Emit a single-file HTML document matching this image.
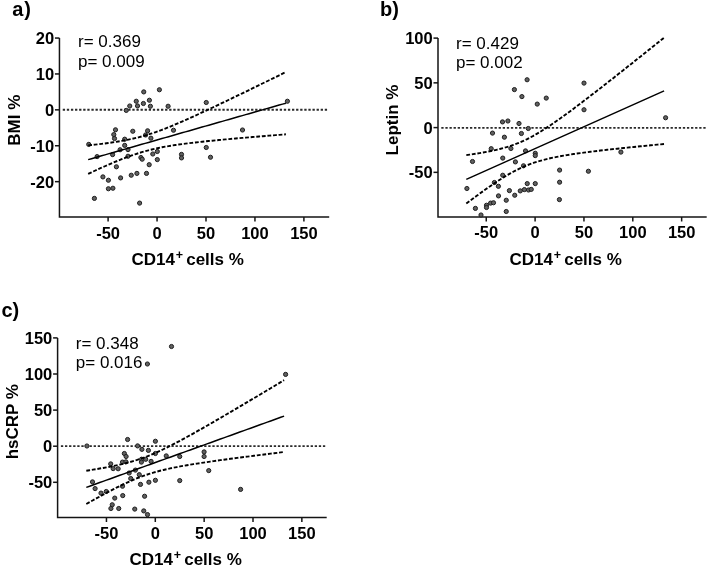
<!DOCTYPE html>
<html><head><meta charset="utf-8"><style>
html,body{margin:0;padding:0;background:#fff;}
svg{display:block;filter:blur(0.35px);}
text{font-family:"Liberation Sans",sans-serif;}
.b{font-weight:bold;}
</style></head><body>
<svg width="708" height="568" viewBox="0 0 708 568">
<rect width="708" height="568" fill="#fff"/>
<text class="b" x="12.3" y="16" font-size="20">a</text>
<text class="b" x="24.2" y="16" font-size="20">)</text>
<path d="M59.45 37.90 V217.10 H329.20" fill="none" stroke="#141414" stroke-width="1.5"/>
<line x1="54.95" y1="38.05" x2="59.45" y2="38.05" stroke="#141414" stroke-width="1.5"/>
<text class="b" x="54.15" y="43.95" font-size="16.5" text-anchor="end">20</text>
<line x1="54.95" y1="73.95" x2="59.45" y2="73.95" stroke="#141414" stroke-width="1.5"/>
<text class="b" x="54.15" y="79.85" font-size="16.5" text-anchor="end">10</text>
<line x1="54.95" y1="109.85" x2="59.45" y2="109.85" stroke="#141414" stroke-width="1.5"/>
<text class="b" x="54.15" y="115.75" font-size="16.5" text-anchor="end">0</text>
<line x1="54.95" y1="145.75" x2="59.45" y2="145.75" stroke="#141414" stroke-width="1.5"/>
<text class="b" x="54.15" y="151.65" font-size="16.5" text-anchor="end">-10</text>
<line x1="54.95" y1="181.65" x2="59.45" y2="181.65" stroke="#141414" stroke-width="1.5"/>
<text class="b" x="54.15" y="187.55" font-size="16.5" text-anchor="end">-20</text>
<line x1="108.10" y1="217.10" x2="108.10" y2="221.60" stroke="#141414" stroke-width="1.5"/>
<text class="b" x="108.10" y="238.50" font-size="16.5" text-anchor="middle">-50</text>
<line x1="157.05" y1="217.10" x2="157.05" y2="221.60" stroke="#141414" stroke-width="1.5"/>
<text class="b" x="157.05" y="238.50" font-size="16.5" text-anchor="middle">0</text>
<line x1="206.00" y1="217.10" x2="206.00" y2="221.60" stroke="#141414" stroke-width="1.5"/>
<text class="b" x="206.00" y="238.50" font-size="16.5" text-anchor="middle">50</text>
<line x1="254.95" y1="217.10" x2="254.95" y2="221.60" stroke="#141414" stroke-width="1.5"/>
<text class="b" x="254.95" y="238.50" font-size="16.5" text-anchor="middle">100</text>
<line x1="303.90" y1="217.10" x2="303.90" y2="221.60" stroke="#141414" stroke-width="1.5"/>
<text class="b" x="303.90" y="238.50" font-size="16.5" text-anchor="middle">150</text>
<text class="b" font-size="17" text-anchor="middle" transform="translate(19.80 120.20) rotate(-90)">BMI %</text>
<text class="b" font-size="17" x="131.50" y="265.40">CD14</text>
<text class="b" font-size="12.5" x="175.70" y="258.70">+</text>
<text class="b" font-size="17" x="186.20" y="265.40">cells %</text>
<text font-size="17" x="78.00" y="47.35">r= 0.369</text>
<text font-size="17" x="78.00" y="66.70">p= 0.009</text>
<line x1="62.75" y1="109.75" x2="328.20" y2="109.75" stroke="#2a2a2a" stroke-width="1.8" stroke-dasharray="2.3 1.794"/>
<circle cx="143.75" cy="91.90" r="2.1" fill="#606060" stroke="#1e1e1e" stroke-width="1.0"/>
<circle cx="159.40" cy="89.75" r="2.1" fill="#606060" stroke="#1e1e1e" stroke-width="1.0"/>
<circle cx="136.25" cy="101.25" r="2.1" fill="#606060" stroke="#1e1e1e" stroke-width="1.0"/>
<circle cx="149.40" cy="100.25" r="2.1" fill="#606060" stroke="#1e1e1e" stroke-width="1.0"/>
<circle cx="143.40" cy="103.50" r="2.1" fill="#606060" stroke="#1e1e1e" stroke-width="1.0"/>
<circle cx="129.75" cy="106.00" r="2.1" fill="#606060" stroke="#1e1e1e" stroke-width="1.0"/>
<circle cx="137.50" cy="105.90" r="2.1" fill="#606060" stroke="#1e1e1e" stroke-width="1.0"/>
<circle cx="150.40" cy="106.25" r="2.1" fill="#606060" stroke="#1e1e1e" stroke-width="1.0"/>
<circle cx="126.25" cy="110.40" r="2.1" fill="#606060" stroke="#1e1e1e" stroke-width="1.0"/>
<circle cx="168.10" cy="106.25" r="2.1" fill="#606060" stroke="#1e1e1e" stroke-width="1.0"/>
<circle cx="115.50" cy="129.80" r="2.1" fill="#606060" stroke="#1e1e1e" stroke-width="1.0"/>
<circle cx="132.80" cy="131.25" r="2.1" fill="#606060" stroke="#1e1e1e" stroke-width="1.0"/>
<circle cx="147.60" cy="130.80" r="2.1" fill="#606060" stroke="#1e1e1e" stroke-width="1.0"/>
<circle cx="113.80" cy="134.60" r="2.1" fill="#606060" stroke="#1e1e1e" stroke-width="1.0"/>
<circle cx="114.50" cy="138.50" r="2.1" fill="#606060" stroke="#1e1e1e" stroke-width="1.0"/>
<circle cx="124.70" cy="139.20" r="2.1" fill="#606060" stroke="#1e1e1e" stroke-width="1.0"/>
<circle cx="150.90" cy="138.20" r="2.1" fill="#606060" stroke="#1e1e1e" stroke-width="1.0"/>
<circle cx="88.75" cy="144.40" r="2.1" fill="#606060" stroke="#1e1e1e" stroke-width="1.0"/>
<circle cx="124.70" cy="145.40" r="2.1" fill="#606060" stroke="#1e1e1e" stroke-width="1.0"/>
<circle cx="120.10" cy="149.75" r="2.1" fill="#606060" stroke="#1e1e1e" stroke-width="1.0"/>
<circle cx="128.00" cy="149.60" r="2.1" fill="#606060" stroke="#1e1e1e" stroke-width="1.0"/>
<circle cx="97.10" cy="156.60" r="2.1" fill="#606060" stroke="#1e1e1e" stroke-width="1.0"/>
<circle cx="112.60" cy="154.60" r="2.1" fill="#606060" stroke="#1e1e1e" stroke-width="1.0"/>
<circle cx="128.00" cy="156.25" r="2.1" fill="#606060" stroke="#1e1e1e" stroke-width="1.0"/>
<circle cx="140.90" cy="157.50" r="2.1" fill="#606060" stroke="#1e1e1e" stroke-width="1.0"/>
<circle cx="142.20" cy="159.20" r="2.1" fill="#606060" stroke="#1e1e1e" stroke-width="1.0"/>
<circle cx="152.80" cy="154.00" r="2.1" fill="#606060" stroke="#1e1e1e" stroke-width="1.0"/>
<circle cx="157.30" cy="151.50" r="2.1" fill="#606060" stroke="#1e1e1e" stroke-width="1.0"/>
<circle cx="157.30" cy="159.60" r="2.1" fill="#606060" stroke="#1e1e1e" stroke-width="1.0"/>
<circle cx="116.40" cy="166.80" r="2.1" fill="#606060" stroke="#1e1e1e" stroke-width="1.0"/>
<circle cx="149.20" cy="164.70" r="2.1" fill="#606060" stroke="#1e1e1e" stroke-width="1.0"/>
<circle cx="102.90" cy="176.90" r="2.1" fill="#606060" stroke="#1e1e1e" stroke-width="1.0"/>
<circle cx="108.40" cy="180.25" r="2.1" fill="#606060" stroke="#1e1e1e" stroke-width="1.0"/>
<circle cx="120.60" cy="177.90" r="2.1" fill="#606060" stroke="#1e1e1e" stroke-width="1.0"/>
<circle cx="131.25" cy="175.25" r="2.1" fill="#606060" stroke="#1e1e1e" stroke-width="1.0"/>
<circle cx="136.90" cy="173.40" r="2.1" fill="#606060" stroke="#1e1e1e" stroke-width="1.0"/>
<circle cx="146.50" cy="173.40" r="2.1" fill="#606060" stroke="#1e1e1e" stroke-width="1.0"/>
<circle cx="108.40" cy="188.75" r="2.1" fill="#606060" stroke="#1e1e1e" stroke-width="1.0"/>
<circle cx="112.90" cy="188.25" r="2.1" fill="#606060" stroke="#1e1e1e" stroke-width="1.0"/>
<circle cx="94.40" cy="198.40" r="2.1" fill="#606060" stroke="#1e1e1e" stroke-width="1.0"/>
<circle cx="139.60" cy="203.10" r="2.1" fill="#606060" stroke="#1e1e1e" stroke-width="1.0"/>
<circle cx="206.25" cy="102.50" r="2.1" fill="#606060" stroke="#1e1e1e" stroke-width="1.0"/>
<circle cx="173.50" cy="130.25" r="2.1" fill="#606060" stroke="#1e1e1e" stroke-width="1.0"/>
<circle cx="206.25" cy="147.50" r="2.1" fill="#606060" stroke="#1e1e1e" stroke-width="1.0"/>
<circle cx="181.50" cy="154.40" r="2.1" fill="#606060" stroke="#1e1e1e" stroke-width="1.0"/>
<circle cx="181.50" cy="157.90" r="2.1" fill="#606060" stroke="#1e1e1e" stroke-width="1.0"/>
<circle cx="210.50" cy="157.25" r="2.1" fill="#606060" stroke="#1e1e1e" stroke-width="1.0"/>
<circle cx="242.50" cy="130.00" r="2.1" fill="#606060" stroke="#1e1e1e" stroke-width="1.0"/>
<circle cx="287.40" cy="101.25" r="2.1" fill="#606060" stroke="#1e1e1e" stroke-width="1.0"/>
<circle cx="145.60" cy="135.00" r="2.1" fill="#606060" stroke="#1e1e1e" stroke-width="1.0"/>
<polyline points="88.15,159.64 91.50,158.68 94.85,157.72 98.21,156.76 101.56,155.81 104.91,154.85 108.26,153.89 111.61,152.93 114.96,151.98 118.32,151.02 121.67,150.06 125.02,149.11 128.37,148.15 131.72,147.19 135.07,146.23 138.43,145.28 141.78,144.32 145.13,143.36 148.48,142.41 151.83,141.45 155.18,140.49 158.54,139.53 161.89,138.58 165.24,137.62 168.59,136.66 171.94,135.71 175.29,134.75 178.65,133.79 182.00,132.83 185.35,131.88 188.70,130.92 192.05,129.96 195.40,129.00 198.76,128.05 202.11,127.09 205.46,126.13 208.81,125.18 212.16,124.22 215.51,123.26 218.87,122.30 222.22,121.35 225.57,120.39 228.92,119.43 232.27,118.48 235.62,117.52 238.98,116.56 242.33,115.60 245.68,114.65 249.03,113.69 252.38,112.73 255.73,111.78 259.09,110.82 262.44,109.86 265.79,108.90 269.14,107.95 272.49,106.99 275.84,106.03 279.20,105.08 282.55,104.12 285.90,103.16" fill="none" stroke="#000" stroke-width="1.5"/>
<polyline points="88.15,145.43 91.50,145.06 94.85,144.68 98.21,144.29 101.56,143.87 104.91,143.44 108.26,142.99 111.61,142.52 114.96,142.01 118.32,141.48 121.67,140.91 125.02,140.30 128.37,139.64 131.72,138.94 135.07,138.17 138.43,137.35 141.78,136.47 145.13,135.52 148.48,134.51 151.83,133.43 155.18,132.30 158.54,131.10 161.89,129.86 165.24,128.57 168.59,127.23 171.94,125.86 175.29,124.46 178.65,123.03 182.00,121.57 185.35,120.09 188.70,118.60 192.05,117.08 195.40,115.55 198.76,114.01 202.11,112.46 205.46,110.90 208.81,109.32 212.16,107.74 215.51,106.16 218.87,104.57 222.22,102.97 225.57,101.36 228.92,99.76 232.27,98.14 235.62,96.53 238.98,94.91 242.33,93.29 245.68,91.66 249.03,90.03 252.38,88.41 255.73,86.77 259.09,85.14 262.44,83.50 265.79,81.87 269.14,80.23 272.49,78.59 275.84,76.94 279.20,75.30 282.55,73.66 285.90,72.01" fill="none" stroke="#000" stroke-width="1.9" stroke-dasharray="3.8 1.8"/>
<polyline points="88.15,173.84 91.50,172.29 94.85,170.76 98.21,169.24 101.56,167.74 104.91,166.25 108.26,164.79 111.61,163.35 114.96,161.94 118.32,160.56 121.67,159.22 125.02,157.91 128.37,156.66 131.72,155.45 135.07,154.30 138.43,153.20 141.78,152.17 145.13,151.21 148.48,150.30 151.83,149.47 155.18,148.69 158.54,147.97 161.89,147.29 165.24,146.67 168.59,146.09 171.94,145.55 175.29,145.04 178.65,144.55 182.00,144.09 185.35,143.66 188.70,143.24 192.05,142.84 195.40,142.46 198.76,142.08 202.11,141.72 205.46,141.37 208.81,141.03 212.16,140.69 215.51,140.37 218.87,140.04 222.22,139.73 225.57,139.42 228.92,139.11 232.27,138.81 235.62,138.51 238.98,138.21 242.33,137.92 245.68,137.63 249.03,137.34 252.38,137.06 255.73,136.78 259.09,136.50 262.44,136.22 265.79,135.94 269.14,135.67 272.49,135.39 275.84,135.12 279.20,134.85 282.55,134.58 285.90,134.31" fill="none" stroke="#000" stroke-width="1.9" stroke-dasharray="3.8 1.8"/>
<text class="b" x="380" y="16" font-size="20">b)</text>
<path d="M438.00 38.00 V217.00 H706.70" fill="none" stroke="#141414" stroke-width="1.5"/>
<line x1="433.50" y1="38.10" x2="438.00" y2="38.10" stroke="#141414" stroke-width="1.5"/>
<text class="b" x="432.70" y="44.00" font-size="16.5" text-anchor="end">100</text>
<line x1="433.50" y1="82.85" x2="438.00" y2="82.85" stroke="#141414" stroke-width="1.5"/>
<text class="b" x="432.70" y="88.75" font-size="16.5" text-anchor="end">50</text>
<line x1="433.50" y1="127.60" x2="438.00" y2="127.60" stroke="#141414" stroke-width="1.5"/>
<text class="b" x="432.70" y="133.50" font-size="16.5" text-anchor="end">0</text>
<line x1="433.50" y1="172.35" x2="438.00" y2="172.35" stroke="#141414" stroke-width="1.5"/>
<text class="b" x="432.70" y="178.25" font-size="16.5" text-anchor="end">-50</text>
<line x1="486.25" y1="217.00" x2="486.25" y2="221.50" stroke="#141414" stroke-width="1.5"/>
<text class="b" x="486.25" y="238.40" font-size="16.5" text-anchor="middle">-50</text>
<line x1="535.10" y1="217.00" x2="535.10" y2="221.50" stroke="#141414" stroke-width="1.5"/>
<text class="b" x="535.10" y="238.40" font-size="16.5" text-anchor="middle">0</text>
<line x1="583.95" y1="217.00" x2="583.95" y2="221.50" stroke="#141414" stroke-width="1.5"/>
<text class="b" x="583.95" y="238.40" font-size="16.5" text-anchor="middle">50</text>
<line x1="632.80" y1="217.00" x2="632.80" y2="221.50" stroke="#141414" stroke-width="1.5"/>
<text class="b" x="632.80" y="238.40" font-size="16.5" text-anchor="middle">100</text>
<line x1="681.65" y1="217.00" x2="681.65" y2="221.50" stroke="#141414" stroke-width="1.5"/>
<text class="b" x="681.65" y="238.40" font-size="16.5" text-anchor="middle">150</text>
<text class="b" font-size="17" text-anchor="middle" transform="translate(398.10 120.00) rotate(-90)">Leptin %</text>
<text class="b" font-size="17" x="509.50" y="265.30">CD14</text>
<text class="b" font-size="12.5" x="553.70" y="258.60">+</text>
<text class="b" font-size="17" x="564.20" y="265.30">cells %</text>
<text font-size="17" x="456.00" y="48.50">r= 0.429</text>
<text font-size="17" x="456.00" y="67.50">p= 0.002</text>
<line x1="441.30" y1="127.90" x2="705.70" y2="127.90" stroke="#2a2a2a" stroke-width="1.8" stroke-dasharray="2.3 1.794"/>
<circle cx="527.10" cy="79.75" r="2.1" fill="#606060" stroke="#1e1e1e" stroke-width="1.0"/>
<circle cx="514.40" cy="89.60" r="2.1" fill="#606060" stroke="#1e1e1e" stroke-width="1.0"/>
<circle cx="521.90" cy="96.60" r="2.1" fill="#606060" stroke="#1e1e1e" stroke-width="1.0"/>
<circle cx="546.25" cy="98.10" r="2.1" fill="#606060" stroke="#1e1e1e" stroke-width="1.0"/>
<circle cx="537.25" cy="104.10" r="2.1" fill="#606060" stroke="#1e1e1e" stroke-width="1.0"/>
<circle cx="502.50" cy="121.90" r="2.1" fill="#606060" stroke="#1e1e1e" stroke-width="1.0"/>
<circle cx="507.90" cy="121.00" r="2.1" fill="#606060" stroke="#1e1e1e" stroke-width="1.0"/>
<circle cx="519.00" cy="123.50" r="2.1" fill="#606060" stroke="#1e1e1e" stroke-width="1.0"/>
<circle cx="528.30" cy="128.50" r="2.1" fill="#606060" stroke="#1e1e1e" stroke-width="1.0"/>
<circle cx="492.50" cy="133.10" r="2.1" fill="#606060" stroke="#1e1e1e" stroke-width="1.0"/>
<circle cx="504.40" cy="137.20" r="2.1" fill="#606060" stroke="#1e1e1e" stroke-width="1.0"/>
<circle cx="521.40" cy="133.50" r="2.1" fill="#606060" stroke="#1e1e1e" stroke-width="1.0"/>
<circle cx="491.20" cy="148.70" r="2.1" fill="#606060" stroke="#1e1e1e" stroke-width="1.0"/>
<circle cx="510.90" cy="148.50" r="2.1" fill="#606060" stroke="#1e1e1e" stroke-width="1.0"/>
<circle cx="525.50" cy="150.90" r="2.1" fill="#606060" stroke="#1e1e1e" stroke-width="1.0"/>
<circle cx="535.25" cy="153.30" r="2.1" fill="#606060" stroke="#1e1e1e" stroke-width="1.0"/>
<circle cx="535.25" cy="155.60" r="2.1" fill="#606060" stroke="#1e1e1e" stroke-width="1.0"/>
<circle cx="472.50" cy="161.50" r="2.1" fill="#606060" stroke="#1e1e1e" stroke-width="1.0"/>
<circle cx="502.75" cy="158.10" r="2.1" fill="#606060" stroke="#1e1e1e" stroke-width="1.0"/>
<circle cx="515.40" cy="161.90" r="2.1" fill="#606060" stroke="#1e1e1e" stroke-width="1.0"/>
<circle cx="523.50" cy="165.80" r="2.1" fill="#606060" stroke="#1e1e1e" stroke-width="1.0"/>
<circle cx="502.75" cy="175.25" r="2.1" fill="#606060" stroke="#1e1e1e" stroke-width="1.0"/>
<circle cx="494.40" cy="182.50" r="2.1" fill="#606060" stroke="#1e1e1e" stroke-width="1.0"/>
<circle cx="498.40" cy="186.30" r="2.1" fill="#606060" stroke="#1e1e1e" stroke-width="1.0"/>
<circle cx="527.25" cy="183.60" r="2.1" fill="#606060" stroke="#1e1e1e" stroke-width="1.0"/>
<circle cx="535.25" cy="183.60" r="2.1" fill="#606060" stroke="#1e1e1e" stroke-width="1.0"/>
<circle cx="466.90" cy="188.50" r="2.1" fill="#606060" stroke="#1e1e1e" stroke-width="1.0"/>
<circle cx="509.40" cy="190.60" r="2.1" fill="#606060" stroke="#1e1e1e" stroke-width="1.0"/>
<circle cx="498.50" cy="195.90" r="2.1" fill="#606060" stroke="#1e1e1e" stroke-width="1.0"/>
<circle cx="514.75" cy="195.25" r="2.1" fill="#606060" stroke="#1e1e1e" stroke-width="1.0"/>
<circle cx="520.25" cy="190.90" r="2.1" fill="#606060" stroke="#1e1e1e" stroke-width="1.0"/>
<circle cx="524.40" cy="189.60" r="2.1" fill="#606060" stroke="#1e1e1e" stroke-width="1.0"/>
<circle cx="528.50" cy="190.00" r="2.1" fill="#606060" stroke="#1e1e1e" stroke-width="1.0"/>
<circle cx="531.25" cy="189.40" r="2.1" fill="#606060" stroke="#1e1e1e" stroke-width="1.0"/>
<circle cx="506.25" cy="200.25" r="2.1" fill="#606060" stroke="#1e1e1e" stroke-width="1.0"/>
<circle cx="490.60" cy="203.10" r="2.1" fill="#606060" stroke="#1e1e1e" stroke-width="1.0"/>
<circle cx="493.50" cy="202.75" r="2.1" fill="#606060" stroke="#1e1e1e" stroke-width="1.0"/>
<circle cx="486.50" cy="205.25" r="2.1" fill="#606060" stroke="#1e1e1e" stroke-width="1.0"/>
<circle cx="486.50" cy="207.50" r="2.1" fill="#606060" stroke="#1e1e1e" stroke-width="1.0"/>
<circle cx="475.40" cy="208.40" r="2.1" fill="#606060" stroke="#1e1e1e" stroke-width="1.0"/>
<circle cx="506.25" cy="211.50" r="2.1" fill="#606060" stroke="#1e1e1e" stroke-width="1.0"/>
<circle cx="481.00" cy="215.00" r="2.1" fill="#606060" stroke="#1e1e1e" stroke-width="1.0"/>
<circle cx="584.00" cy="83.10" r="2.1" fill="#606060" stroke="#1e1e1e" stroke-width="1.0"/>
<circle cx="584.00" cy="109.75" r="2.1" fill="#606060" stroke="#1e1e1e" stroke-width="1.0"/>
<circle cx="559.60" cy="170.10" r="2.1" fill="#606060" stroke="#1e1e1e" stroke-width="1.0"/>
<circle cx="588.40" cy="171.25" r="2.1" fill="#606060" stroke="#1e1e1e" stroke-width="1.0"/>
<circle cx="559.60" cy="182.20" r="2.1" fill="#606060" stroke="#1e1e1e" stroke-width="1.0"/>
<circle cx="559.40" cy="199.60" r="2.1" fill="#606060" stroke="#1e1e1e" stroke-width="1.0"/>
<circle cx="620.90" cy="152.10" r="2.1" fill="#606060" stroke="#1e1e1e" stroke-width="1.0"/>
<circle cx="665.60" cy="117.75" r="2.1" fill="#606060" stroke="#1e1e1e" stroke-width="1.0"/>
<polyline points="466.30,179.38 469.65,177.88 473.01,176.38 476.36,174.88 479.71,173.38 483.06,171.87 486.42,170.37 489.77,168.87 493.12,167.37 496.47,165.87 499.83,164.37 503.18,162.87 506.53,161.37 509.88,159.87 513.24,158.37 516.59,156.87 519.94,155.37 523.29,153.87 526.65,152.37 530.00,150.87 533.35,149.37 536.70,147.87 540.06,146.36 543.41,144.86 546.76,143.36 550.11,141.86 553.47,140.36 556.82,138.86 560.17,137.36 563.52,135.86 566.88,134.36 570.23,132.86 573.58,131.36 576.93,129.86 580.29,128.36 583.64,126.86 586.99,125.36 590.34,123.86 593.70,122.35 597.05,120.85 600.40,119.35 603.75,117.85 607.11,116.35 610.46,114.85 613.81,113.35 617.16,111.85 620.52,110.35 623.87,108.85 627.22,107.35 630.57,105.85 633.93,104.35 637.28,102.85 640.63,101.35 643.98,99.85 647.34,98.35 650.69,96.84 654.04,95.34 657.39,93.84 660.75,92.34 664.10,90.84" fill="none" stroke="#000" stroke-width="1.5"/>
<polyline points="466.30,155.16 469.65,154.68 473.01,154.18 476.36,153.66 479.71,153.11 483.06,152.53 486.42,151.92 489.77,151.26 493.12,150.57 496.47,149.81 499.83,149.00 503.18,148.12 506.53,147.16 509.88,146.11 513.24,144.97 516.59,143.72 519.94,142.36 523.29,140.89 526.65,139.30 530.00,137.60 533.35,135.80 536.70,133.89 540.06,131.89 543.41,129.81 546.76,127.66 550.11,125.44 553.47,123.16 556.82,120.84 560.17,118.47 563.52,116.06 566.88,113.62 570.23,111.16 573.58,108.67 576.93,106.15 580.29,103.62 583.64,101.08 586.99,98.51 590.34,95.94 593.70,93.35 597.05,90.75 600.40,88.15 603.75,85.53 607.11,82.91 610.46,80.28 613.81,77.65 617.16,75.00 620.52,72.36 623.87,69.71 627.22,67.05 630.57,64.40 633.93,61.73 637.28,59.07 640.63,56.40 643.98,53.73 647.34,51.06 650.69,48.38 654.04,45.70 657.39,43.02 660.75,40.34 664.10,37.66" fill="none" stroke="#000" stroke-width="1.9" stroke-dasharray="3.8 1.8"/>
<polyline points="466.30,203.60 469.65,201.07 473.01,198.57 476.36,196.09 479.71,193.64 483.06,191.22 486.42,188.83 489.77,186.48 493.12,184.18 496.47,181.93 499.83,179.74 503.18,177.62 506.53,175.58 509.88,173.63 513.24,171.77 516.59,170.02 519.94,168.38 523.29,166.85 526.65,165.43 530.00,164.13 533.35,162.93 536.70,161.84 540.06,160.84 543.41,159.92 546.76,159.07 550.11,158.29 553.47,157.56 556.82,156.89 560.17,156.25 563.52,155.66 566.88,155.09 570.23,154.56 573.58,154.05 576.93,153.56 580.29,153.09 583.64,152.64 586.99,152.20 590.34,151.77 593.70,151.36 597.05,150.96 600.40,150.56 603.75,150.17 607.11,149.80 610.46,149.42 613.81,149.06 617.16,148.70 620.52,148.34 623.87,147.99 627.22,147.64 630.57,147.30 633.93,146.96 637.28,146.62 640.63,146.29 643.98,145.96 647.34,145.63 650.69,145.31 654.04,144.98 657.39,144.66 660.75,144.34 664.10,144.03" fill="none" stroke="#000" stroke-width="1.9" stroke-dasharray="3.8 1.8"/>
<text class="b" x="1.5" y="317" font-size="20">c)</text>
<path d="M57.60 337.90 V517.50 H326.70" fill="none" stroke="#141414" stroke-width="1.5"/>
<line x1="53.10" y1="337.90" x2="57.60" y2="337.90" stroke="#141414" stroke-width="1.5"/>
<text class="b" x="52.30" y="343.80" font-size="16.5" text-anchor="end">150</text>
<line x1="53.10" y1="374.00" x2="57.60" y2="374.00" stroke="#141414" stroke-width="1.5"/>
<text class="b" x="52.30" y="379.90" font-size="16.5" text-anchor="end">100</text>
<line x1="53.10" y1="410.10" x2="57.60" y2="410.10" stroke="#141414" stroke-width="1.5"/>
<text class="b" x="52.30" y="416.00" font-size="16.5" text-anchor="end">50</text>
<line x1="53.10" y1="446.20" x2="57.60" y2="446.20" stroke="#141414" stroke-width="1.5"/>
<text class="b" x="52.30" y="452.10" font-size="16.5" text-anchor="end">0</text>
<line x1="53.10" y1="482.30" x2="57.60" y2="482.30" stroke="#141414" stroke-width="1.5"/>
<text class="b" x="52.30" y="488.20" font-size="16.5" text-anchor="end">-50</text>
<line x1="106.45" y1="517.50" x2="106.45" y2="522.00" stroke="#141414" stroke-width="1.5"/>
<text class="b" x="106.45" y="538.90" font-size="16.5" text-anchor="middle">-50</text>
<line x1="155.30" y1="517.50" x2="155.30" y2="522.00" stroke="#141414" stroke-width="1.5"/>
<text class="b" x="155.30" y="538.90" font-size="16.5" text-anchor="middle">0</text>
<line x1="204.15" y1="517.50" x2="204.15" y2="522.00" stroke="#141414" stroke-width="1.5"/>
<text class="b" x="204.15" y="538.90" font-size="16.5" text-anchor="middle">50</text>
<line x1="253.00" y1="517.50" x2="253.00" y2="522.00" stroke="#141414" stroke-width="1.5"/>
<text class="b" x="253.00" y="538.90" font-size="16.5" text-anchor="middle">100</text>
<line x1="301.85" y1="517.50" x2="301.85" y2="522.00" stroke="#141414" stroke-width="1.5"/>
<text class="b" x="301.85" y="538.90" font-size="16.5" text-anchor="middle">150</text>
<text class="b" font-size="17" text-anchor="middle" transform="translate(17.50 421.70) rotate(-90)">hsCRP %</text>
<text class="b" font-size="17" x="129.50" y="565.40">CD14</text>
<text class="b" font-size="12.5" x="173.70" y="558.70">+</text>
<text class="b" font-size="17" x="184.20" y="565.40">cells %</text>
<text font-size="17" x="75.80" y="349.40">r= 0.348</text>
<text font-size="17" x="75.80" y="368.30">p= 0.016</text>
<line x1="60.90" y1="446.20" x2="325.70" y2="446.20" stroke="#2a2a2a" stroke-width="1.8" stroke-dasharray="2.3 1.794"/>
<circle cx="86.90" cy="446.00" r="2.1" fill="#606060" stroke="#1e1e1e" stroke-width="1.0"/>
<circle cx="127.60" cy="439.50" r="2.1" fill="#606060" stroke="#1e1e1e" stroke-width="1.0"/>
<circle cx="155.40" cy="441.25" r="2.1" fill="#606060" stroke="#1e1e1e" stroke-width="1.0"/>
<circle cx="137.60" cy="445.90" r="2.1" fill="#606060" stroke="#1e1e1e" stroke-width="1.0"/>
<circle cx="141.90" cy="449.35" r="2.1" fill="#606060" stroke="#1e1e1e" stroke-width="1.0"/>
<circle cx="148.40" cy="450.40" r="2.1" fill="#606060" stroke="#1e1e1e" stroke-width="1.0"/>
<circle cx="124.35" cy="453.50" r="2.1" fill="#606060" stroke="#1e1e1e" stroke-width="1.0"/>
<circle cx="126.10" cy="456.50" r="2.1" fill="#606060" stroke="#1e1e1e" stroke-width="1.0"/>
<circle cx="155.40" cy="453.50" r="2.1" fill="#606060" stroke="#1e1e1e" stroke-width="1.0"/>
<circle cx="166.25" cy="455.90" r="2.1" fill="#606060" stroke="#1e1e1e" stroke-width="1.0"/>
<circle cx="122.50" cy="462.10" r="2.1" fill="#606060" stroke="#1e1e1e" stroke-width="1.0"/>
<circle cx="125.90" cy="461.85" r="2.1" fill="#606060" stroke="#1e1e1e" stroke-width="1.0"/>
<circle cx="141.60" cy="459.20" r="2.1" fill="#606060" stroke="#1e1e1e" stroke-width="1.0"/>
<circle cx="141.40" cy="462.10" r="2.1" fill="#606060" stroke="#1e1e1e" stroke-width="1.0"/>
<circle cx="145.70" cy="459.30" r="2.1" fill="#606060" stroke="#1e1e1e" stroke-width="1.0"/>
<circle cx="151.10" cy="461.40" r="2.1" fill="#606060" stroke="#1e1e1e" stroke-width="1.0"/>
<circle cx="110.70" cy="463.90" r="2.1" fill="#606060" stroke="#1e1e1e" stroke-width="1.0"/>
<circle cx="113.15" cy="468.60" r="2.1" fill="#606060" stroke="#1e1e1e" stroke-width="1.0"/>
<circle cx="118.15" cy="468.75" r="2.1" fill="#606060" stroke="#1e1e1e" stroke-width="1.0"/>
<circle cx="129.15" cy="473.00" r="2.1" fill="#606060" stroke="#1e1e1e" stroke-width="1.0"/>
<circle cx="135.40" cy="470.10" r="2.1" fill="#606060" stroke="#1e1e1e" stroke-width="1.0"/>
<circle cx="139.30" cy="474.70" r="2.1" fill="#606060" stroke="#1e1e1e" stroke-width="1.0"/>
<circle cx="130.75" cy="478.50" r="2.1" fill="#606060" stroke="#1e1e1e" stroke-width="1.0"/>
<circle cx="92.50" cy="481.90" r="2.1" fill="#606060" stroke="#1e1e1e" stroke-width="1.0"/>
<circle cx="140.50" cy="484.40" r="2.1" fill="#606060" stroke="#1e1e1e" stroke-width="1.0"/>
<circle cx="148.90" cy="482.20" r="2.1" fill="#606060" stroke="#1e1e1e" stroke-width="1.0"/>
<circle cx="155.40" cy="480.30" r="2.1" fill="#606060" stroke="#1e1e1e" stroke-width="1.0"/>
<circle cx="95.10" cy="488.60" r="2.1" fill="#606060" stroke="#1e1e1e" stroke-width="1.0"/>
<circle cx="122.50" cy="486.25" r="2.1" fill="#606060" stroke="#1e1e1e" stroke-width="1.0"/>
<circle cx="101.00" cy="493.10" r="2.1" fill="#606060" stroke="#1e1e1e" stroke-width="1.0"/>
<circle cx="106.25" cy="491.50" r="2.1" fill="#606060" stroke="#1e1e1e" stroke-width="1.0"/>
<circle cx="114.75" cy="498.10" r="2.1" fill="#606060" stroke="#1e1e1e" stroke-width="1.0"/>
<circle cx="122.75" cy="495.60" r="2.1" fill="#606060" stroke="#1e1e1e" stroke-width="1.0"/>
<circle cx="144.60" cy="496.25" r="2.1" fill="#606060" stroke="#1e1e1e" stroke-width="1.0"/>
<circle cx="112.25" cy="504.75" r="2.1" fill="#606060" stroke="#1e1e1e" stroke-width="1.0"/>
<circle cx="110.90" cy="508.50" r="2.1" fill="#606060" stroke="#1e1e1e" stroke-width="1.0"/>
<circle cx="118.75" cy="508.50" r="2.1" fill="#606060" stroke="#1e1e1e" stroke-width="1.0"/>
<circle cx="134.75" cy="509.10" r="2.1" fill="#606060" stroke="#1e1e1e" stroke-width="1.0"/>
<circle cx="143.75" cy="510.90" r="2.1" fill="#606060" stroke="#1e1e1e" stroke-width="1.0"/>
<circle cx="147.50" cy="514.60" r="2.1" fill="#606060" stroke="#1e1e1e" stroke-width="1.0"/>
<circle cx="147.40" cy="364.00" r="2.1" fill="#606060" stroke="#1e1e1e" stroke-width="1.0"/>
<circle cx="171.50" cy="346.50" r="2.1" fill="#606060" stroke="#1e1e1e" stroke-width="1.0"/>
<circle cx="179.75" cy="456.50" r="2.1" fill="#606060" stroke="#1e1e1e" stroke-width="1.0"/>
<circle cx="204.10" cy="451.90" r="2.1" fill="#606060" stroke="#1e1e1e" stroke-width="1.0"/>
<circle cx="204.10" cy="456.50" r="2.1" fill="#606060" stroke="#1e1e1e" stroke-width="1.0"/>
<circle cx="208.75" cy="470.60" r="2.1" fill="#606060" stroke="#1e1e1e" stroke-width="1.0"/>
<circle cx="179.75" cy="480.60" r="2.1" fill="#606060" stroke="#1e1e1e" stroke-width="1.0"/>
<circle cx="285.60" cy="374.40" r="2.1" fill="#606060" stroke="#1e1e1e" stroke-width="1.0"/>
<circle cx="240.60" cy="489.40" r="2.1" fill="#606060" stroke="#1e1e1e" stroke-width="1.0"/>
<polyline points="86.30,487.39 89.65,486.18 93.01,484.97 96.36,483.76 99.71,482.55 103.06,481.35 106.42,480.14 109.77,478.93 113.12,477.72 116.47,476.51 119.83,475.31 123.18,474.10 126.53,472.89 129.88,471.68 133.24,470.47 136.59,469.26 139.94,468.06 143.29,466.85 146.65,465.64 150.00,464.43 153.35,463.22 156.70,462.02 160.06,460.81 163.41,459.60 166.76,458.39 170.11,457.18 173.47,455.97 176.82,454.77 180.17,453.56 183.52,452.35 186.88,451.14 190.23,449.93 193.58,448.73 196.93,447.52 200.29,446.31 203.64,445.10 206.99,443.89 210.34,442.69 213.70,441.48 217.05,440.27 220.40,439.06 223.75,437.85 227.11,436.64 230.46,435.44 233.81,434.23 237.16,433.02 240.52,431.81 243.87,430.60 247.22,429.40 250.57,428.19 253.93,426.98 257.28,425.77 260.63,424.56 263.98,423.35 267.34,422.15 270.69,420.94 274.04,419.73 277.39,418.52 280.75,417.31 284.10,416.11" fill="none" stroke="#000" stroke-width="1.5"/>
<polyline points="86.30,470.73 89.65,470.21 93.01,469.67 96.36,469.12 99.71,468.55 103.06,467.96 106.42,467.35 109.77,466.71 113.12,466.04 116.47,465.34 119.83,464.59 123.18,463.80 126.53,462.96 129.88,462.06 133.24,461.09 136.59,460.06 139.94,458.96 143.29,457.79 146.65,456.53 150.00,455.21 153.35,453.81 156.70,452.35 160.06,450.82 163.41,449.24 166.76,447.61 170.11,445.93 173.47,444.21 176.82,442.46 180.17,440.68 183.52,438.87 186.88,437.04 190.23,435.19 193.58,433.32 196.93,431.44 200.29,429.54 203.64,427.63 206.99,425.71 210.34,423.79 213.70,421.85 217.05,419.90 220.40,417.95 223.75,416.00 227.11,414.03 230.46,412.07 233.81,410.09 237.16,408.12 240.52,406.14 243.87,404.16 247.22,402.17 250.57,400.18 253.93,398.19 257.28,396.20 260.63,394.20 263.98,392.21 267.34,390.21 270.69,388.21 274.04,386.20 277.39,384.20 280.75,382.19 284.10,380.19" fill="none" stroke="#000" stroke-width="1.9" stroke-dasharray="3.8 1.8"/>
<polyline points="86.30,504.04 89.65,502.15 93.01,500.27 96.36,498.40 99.71,496.56 103.06,494.73 106.42,492.93 109.77,491.15 113.12,489.40 116.47,487.69 119.83,486.02 123.18,484.40 126.53,482.82 129.88,481.31 133.24,479.85 136.59,478.47 139.94,477.15 143.29,475.91 146.65,474.75 150.00,473.66 153.35,472.64 156.70,471.68 160.06,470.79 163.41,469.96 166.76,469.18 170.11,468.44 173.47,467.74 176.82,467.07 180.17,466.44 183.52,465.83 186.88,465.24 190.23,464.68 193.58,464.13 196.93,463.60 200.29,463.08 203.64,462.57 206.99,462.07 210.34,461.58 213.70,461.11 217.05,460.63 220.40,460.17 223.75,459.71 227.11,459.25 230.46,458.81 233.81,458.36 237.16,457.92 240.52,457.48 243.87,457.05 247.22,456.62 250.57,456.19 253.93,455.77 257.28,455.34 260.63,454.92 263.98,454.50 267.34,454.09 270.69,453.67 274.04,453.26 277.39,452.84 280.75,452.43 284.10,452.02" fill="none" stroke="#000" stroke-width="1.9" stroke-dasharray="3.8 1.8"/>
</svg>
</body></html>
